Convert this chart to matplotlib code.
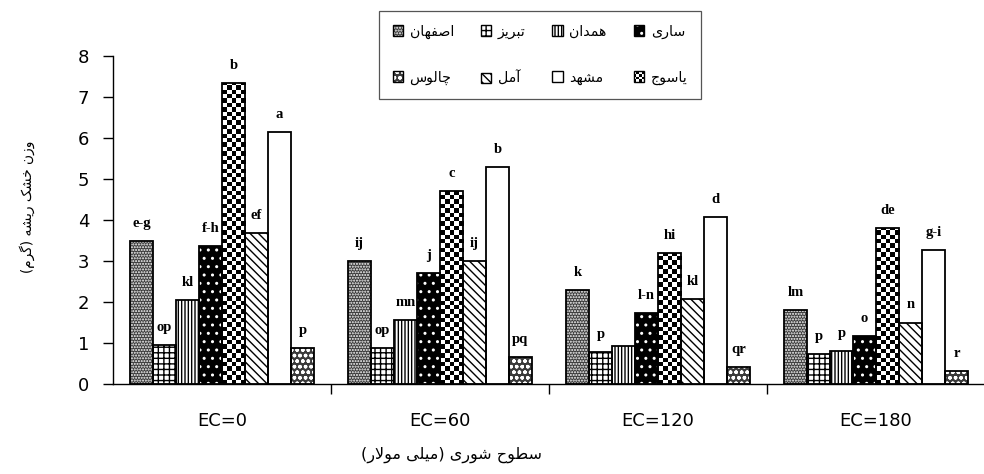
import numpy as np
import matplotlib
matplotlib.use('Agg')
import matplotlib.pyplot as plt
from matplotlib.patches import Rectangle
from matplotlib.legend_handler import HandlerBase

# data
groups = ['EC=0', 'EC=60', 'EC=120', 'EC=180']
cities = ['اصفهان', 'تبریز', 'همدان', 'ساری', 'یاسوج', 'آمل', 'مشهد', 'چالوس']

isfahan = [3.50, 3.00, 2.29, 1.80]
tabriz = [0.95, 0.89, 0.79, 0.72]
hamedan = [2.06, 1.56, 0.92, 0.80]
sari = [3.36, 2.71, 1.74, 1.17]
yasuj = [7.33, 4.70, 3.20, 3.80]
amol = [3.68, 3.00, 2.07, 1.50]
mashhad = [6.15, 5.29, 4.07, 3.27]
chalus = [0.89, 0.66, 0.41, 0.32]

let_isfahan = ['e-g', 'ij', 'k', 'lm']
let_tabriz = ['op', 'op', 'p', 'p']
let_hamedan = ['kl', 'mn', '', 'p']
let_sari = ['f-h', 'j', 'l-n', 'o']
let_yasuj = ['b', 'c', 'hi', 'de']
let_amol = ['ef', 'ij', 'kl', 'n']
let_mashhad = ['a', 'b', 'd', 'g-i']
let_chalus = ['p', 'pq', 'qr', 'r']

y_title = 'وزن خشک ریشه (گرم)'
x_title = 'سطوح شوری (میلی مولار)'

series = [isfahan, tabriz, hamedan, sari, yasuj, amol, mashhad, chalus]
letters = [let_isfahan, let_tabriz, let_hamedan, let_sari, let_yasuj, let_amol, let_mashhad, let_chalus]

# fill / hatch / hatch colour per city (None hatch colour = checkerboard)
styles = [
    ('#3a3a3a', '......', 'white'),
    ('white', '+++', 'black'),
    ('white', '|||||', 'black'),
    ('black', '..', 'white'),
    ('white', '', None),
    ('white', '\\\\\\\\', 'black'),
    ('white', '', 'black'),
    ('#3a3a3a', 'ooo', 'white'),
]

# very small arabic shaper: presentation forms (isol, final, init, medial)
FORMS = {
    '\u0627': (0xFE8D, 0xFE8E), '\u0622': (0xFE81, 0xFE82),
    '\u0628': (0xFE8F, 0xFE90, 0xFE91, 0xFE92), '\u062A': (0xFE95, 0xFE96, 0xFE97, 0xFE98),
    '\u062C': (0xFE9D, 0xFE9E, 0xFE9F, 0xFEA0), '\u062D': (0xFEA1, 0xFEA2, 0xFEA3, 0xFEA4),
    '\u062E': (0xFEA5, 0xFEA6, 0xFEA7, 0xFEA8), '\u062F': (0xFEA9, 0xFEAA),
    '\u0631': (0xFEAD, 0xFEAE), '\u0632': (0xFEAF, 0xFEB0),
    '\u0633': (0xFEB1, 0xFEB2, 0xFEB3, 0xFEB4), '\u0634': (0xFEB5, 0xFEB6, 0xFEB7, 0xFEB8),
    '\u0635': (0xFEB9, 0xFEBA, 0xFEBB, 0xFEBC), '\u0637': (0xFEC1, 0xFEC2, 0xFEC3, 0xFEC4),
    '\u0641': (0xFED1, 0xFED2, 0xFED3, 0xFED4), '\u0644': (0xFEDD, 0xFEDE, 0xFEDF, 0xFEE0),
    '\u0645': (0xFEE1, 0xFEE2, 0xFEE3, 0xFEE4), '\u0646': (0xFEE5, 0xFEE6, 0xFEE7, 0xFEE8),
    '\u0647': (0xFEE9, 0xFEEA, 0xFEEB, 0xFEEC), '\u0648': (0xFEED, 0xFEEE),
    '\u0686': (0xFB7A, 0xFB7B, 0xFB7C, 0xFB7D), '\u06A9': (0xFB8E, 0xFB8F, 0xFB90, 0xFB91),
    '\u06AF': (0xFB92, 0xFB93, 0xFB94, 0xFB95), '\u06CC': (0xFBFC, 0xFBFD, 0xFBFE, 0xFBFF),
}
LAM_ALEF = {'\u0627': (0xFEFB, 0xFEFC), '\u0622': (0xFEF5, 0xFEF6)}


def rtl(text):
	out = []
	i = 0
	while i < len(text):
		c = text[i]
		if c not in FORMS:
			out.append(c)
			i += 1
			continue
		prev = text[i - 1] if i > 0 else None
		joins_prev = prev in FORMS and len(FORMS[prev]) == 4
		if c == '\u0644' and i + 1 < len(text) and text[i + 1] in LAM_ALEF:
			out.append(chr(LAM_ALEF[text[i + 1]][1 if joins_prev else 0]))
			i += 2
			continue
		nxt = text[i + 1] if i + 1 < len(text) else None
		f = FORMS[c]
		joins_next = len(f) == 4 and nxt in FORMS
		if joins_prev and joins_next:
			g = f[3]
		elif joins_prev:
			g = f[1]
		elif joins_next:
			g = f[2]
		else:
			g = f[0]
		out.append(chr(g))
		i += 1
	mirror = {'(': ')', ')': '('}
	return ''.join(mirror.get(ch, ch) for ch in reversed(out))


class Swatch:
	def __init__(self, style):
		self.style = style


class SwatchHandler(HandlerBase):
	def create_artists(self, legend, orig_handle, xdescent, ydescent, width, height, fontsize, trans):
		face, hatch, hcol = orig_handle.style
		x0, y0 = -xdescent, -ydescent
		arts = []
		if hcol is None:
			n = 4
			cw, ch = width / n, height / n
			arts.append(Rectangle((x0, y0), width, height, facecolor='white', lw=0, transform=trans))
			for r in range(n):
				for k in range(n):
					if (r + k) % 2 == 0:
						arts.append(Rectangle((x0 + k * cw, y0 + r * ch), cw, ch, facecolor='black', lw=0, transform=trans))
		else:
			arts.append(Rectangle((x0, y0), width, height, facecolor=face, edgecolor=hcol,
								  hatch=hatch if hatch else None, lw=0, transform=trans))
		arts.append(Rectangle((x0, y0), width, height, fill=False, edgecolor='black', lw=1.0, transform=trans))
		return arts


fig = plt.figure(figsize=(9.84, 4.74), dpi=100)
ax = fig.add_axes([113 / 984, 90 / 474, 871 / 984, 328 / 474])

x = np.arange(len(groups))
width = 0.1055
cell_h = 0.107

for j, (vals, st) in enumerate(zip(series, styles)):
	face, hatch, hcol = st
	pos = x + (j - 3.5) * width
	if hcol is None:
		bars = ax.bar(pos, vals, width, color='white', linewidth=0, zorder=2)
		for rect in bars:
			x0, w, h = rect.get_x(), rect.get_width(), rect.get_height()
			nrow = int(np.ceil(h / cell_h))
			board = np.add.outer(np.arange(nrow), np.arange(5)) % 2
			im = ax.imshow(board, cmap='gray', extent=[x0, x0 + w, 0, nrow * cell_h], origin='lower',
						   aspect='auto', interpolation='nearest', zorder=2)
			im.set_clip_path(rect)
	else:
		ax.bar(pos, vals, width, color=face, edgecolor=hcol, hatch=hatch if hatch else None, linewidth=0, zorder=2)
	ax.bar(pos, vals, width, fill=False, edgecolor='black', linewidth=1.3, zorder=3)
	for xp, v, lab in zip(pos, vals, letters[j]):
		if lab:
			ax.annotate(lab, (xp, v), xytext=(0, 14), textcoords='offset pixels', ha='center', va='baseline',
						fontsize=10.5, fontweight='bold', family='Liberation Serif', zorder=4)

ax.set_xlim(-0.5, 3.495)
ax.set_ylim(0, 8)
ax.set_yticks(range(0, 9))
ax.tick_params(axis='y', direction='out', length=7, width=1, pad=10, labelsize=13)
ax.set_xticks([0.5, 1.5, 2.5])
ax.set_xticklabels([])
ax.tick_params(axis='x', which='major', direction='out', length=7, width=1)
ax.set_xticks(x, minor=True)
ax.set_xticklabels(groups, minor=True)
ax.tick_params(axis='x', which='minor', length=0, pad=20, labelsize=13)
for s in ['top', 'right']:
	ax.spines[s].set_visible(False)
for s in ['left', 'bottom']:
	ax.spines[s].set_linewidth(1.0)

ax.set_ylabel(rtl(y_title), fontsize=9.8, family='DejaVu Sans')
ax.yaxis.set_label_coords(-0.09, 0.54)
ax.set_xlabel(rtl(x_title), fontsize=11.5, family='DejaVu Sans')
ax.xaxis.set_label_coords(0.389, -0.19)

# legend is filled column by column
order = [0, 7, 1, 5, 2, 6, 3, 4]
handles = [Swatch(styles[k]) for k in order]
labels = [rtl(cities[k]) for k in order]
leg = fig.legend(handles, labels, handler_map={Swatch: SwatchHandler()}, ncol=4,
				 loc='upper left', bbox_to_anchor=(372 / 984, 1 - 90 / 474, 336 / 984, 86 / 474),
				 mode='expand', handlelength=0.75, handleheight=0.75, handletextpad=0.45,
				 labelspacing=2.25, borderpad=0.95, fancybox=False, framealpha=1,
				 prop={'family': 'DejaVu Sans', 'size': 10.2})
leg.get_frame().set_edgecolor('#555555')
leg.get_frame().set_linewidth(0.9)
leg.set_zorder(5)

fig.savefig('out.png', dpi=100)
